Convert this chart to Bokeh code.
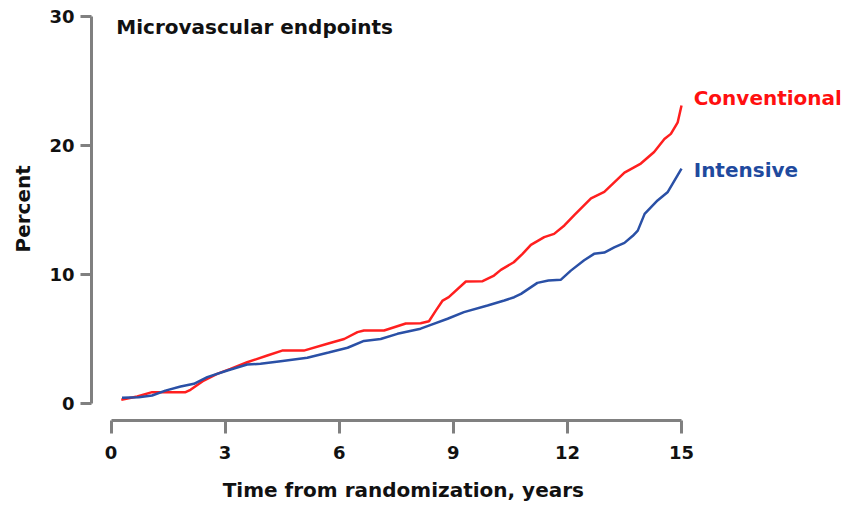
from bokeh.plotting import figure
from bokeh.models import Range1d, Label, FixedTicker, Title
from bokeh.embed import file_html
from bokeh.resources import INLINE

# Data (years, percent)
conv_t = [0.27, 0.69, 1.08, 1.96, 2.09, 2.44, 2.79, 3.14, 3.58, 4.11, 4.5, 5.07, 5.69, 6.13,
          6.48, 6.65, 7.09, 7.18, 7.75, 8.14, 8.36, 8.54, 8.72, 8.88, 9.33, 9.77, 10.07, 10.25,
          10.59, 10.82, 11.04, 11.39, 11.65, 11.92, 12.18, 12.62, 12.97, 13.5, 13.93, 14.28,
          14.55, 14.72, 14.9, 15.0]
conv_v = [0.29, 0.54, 0.88, 0.88, 1.06, 1.78, 2.3, 2.69, 3.2, 3.72, 4.1, 4.1, 4.63, 5.0,
          5.53, 5.66, 5.66, 5.66, 6.2, 6.22, 6.38, 7.2, 7.98, 8.24, 9.46, 9.48, 9.92, 10.36,
          10.95, 11.6, 12.3, 12.9, 13.15, 13.8, 14.6, 15.9, 16.4, 17.9, 18.6, 19.5,
          20.5, 20.9, 21.8, 23.1]

int_t = [0.29, 0.73, 1.08, 1.43, 1.83, 2.18, 2.53, 3.06, 3.58, 3.93, 4.46, 5.16, 5.72, 6.22,
         6.65, 7.09, 7.53, 8.14, 8.41, 8.85, 9.28, 9.9, 10.34, 10.6, 10.78, 11.21, 11.5, 11.83,
         12.09, 12.44, 12.7, 12.97, 13.23, 13.5, 13.72, 13.85, 14.03, 14.37, 14.64, 15.0]
int_v = [0.44, 0.49, 0.62, 1.0, 1.32, 1.53, 2.04, 2.56, 3.02, 3.08, 3.28, 3.54, 3.95, 4.32,
         4.85, 5.0, 5.4, 5.8, 6.1, 6.57, 7.08, 7.6, 7.98, 8.24, 8.5, 9.35, 9.53, 9.6,
         10.3, 11.1, 11.6, 11.7, 12.1, 12.45, 13.0, 13.4, 14.7, 15.74, 16.4, 18.2]

x_ticks = [0, 3, 6, 9, 12, 15]
y_ticks = [0, 10, 20, 30]

FONT = "DejaVu Sans"
RED = "#ff1f1f"
BLUE = "#2a50a6"
AXIS = "#808080"

p = figure(width=843, height=506, output_backend="svg", toolbar_location=None,
           x_range=Range1d(-0.513, 19.18), y_range=Range1d(-1.318, 30.465),
           min_border_left=91, min_border_right=3, min_border_top=10, min_border_bottom=86)
p.outline_line_color = None
p.xgrid.visible = False
p.ygrid.visible = False
p.background_fill_color = "white"
p.border_fill_color = "white"

for ax, ticks in ((p.xaxis[0], x_ticks), (p.yaxis[0], y_ticks)):
    ax.ticker = FixedTicker(ticks=ticks)
    ax.minor_tick_line_color = None
    ax.major_tick_in = 0
    ax.axis_line_color = AXIS
    ax.axis_line_width = 3
    ax.major_tick_line_color = AXIS
    ax.major_tick_line_width = 3
    ax.major_label_text_font = FONT
    ax.major_label_text_font_style = "bold"
    ax.major_label_text_font_size = "18px"
    ax.major_label_text_color = "#111111"

p.xaxis.bounds = (0, 15)
p.yaxis.bounds = (0, 30)
p.xaxis.major_tick_out = 13
p.yaxis.major_tick_out = 11
p.xaxis.major_label_standoff = 12
p.yaxis.major_label_standoff = 6

# x-axis label: padded with no-break spaces so the visible words sit under the 0-15 span
p.xaxis.axis_label = "Time from randomization, years" + "\u00a0" * 18
p.xaxis.axis_label_text_font = FONT
p.xaxis.axis_label_text_font_style = "bold"
p.xaxis.axis_label_text_font_size = "20px"
p.xaxis.axis_label_text_color = "#111111"
p.xaxis.axis_label_standoff = 16

yt = Title(text="Percent", align="left", offset=168, vertical_align="top",
           text_font=FONT, text_font_style="bold", text_font_size="20px",
           text_color="#111111", standoff=20)
p.add_layout(yt, "left")

p.line(conv_t, conv_v, line_color=RED, line_width=2.5)
p.line(int_t, int_v, line_color=BLUE, line_width=2.5)

p.add_layout(Label(x=0.14, y=29.22, text="Microvascular endpoints", text_font=FONT,
                   text_font_style="bold", text_font_size="20px", text_color="#111111",
                   text_baseline="alphabetic"))
p.add_layout(Label(x=15.32, y=23.72, text="Conventional", text_font=FONT,
                   text_font_style="bold", text_font_size="20px", text_color="#ff1010",
                   text_baseline="alphabetic"))
p.add_layout(Label(x=15.32, y=18.12, text="Intensive", text_font=FONT,
                   text_font_style="bold", text_font_size="20px", text_color="#1f4a9e",
                   text_baseline="alphabetic"))

open("out.html", "w").write(file_html(p, INLINE))
